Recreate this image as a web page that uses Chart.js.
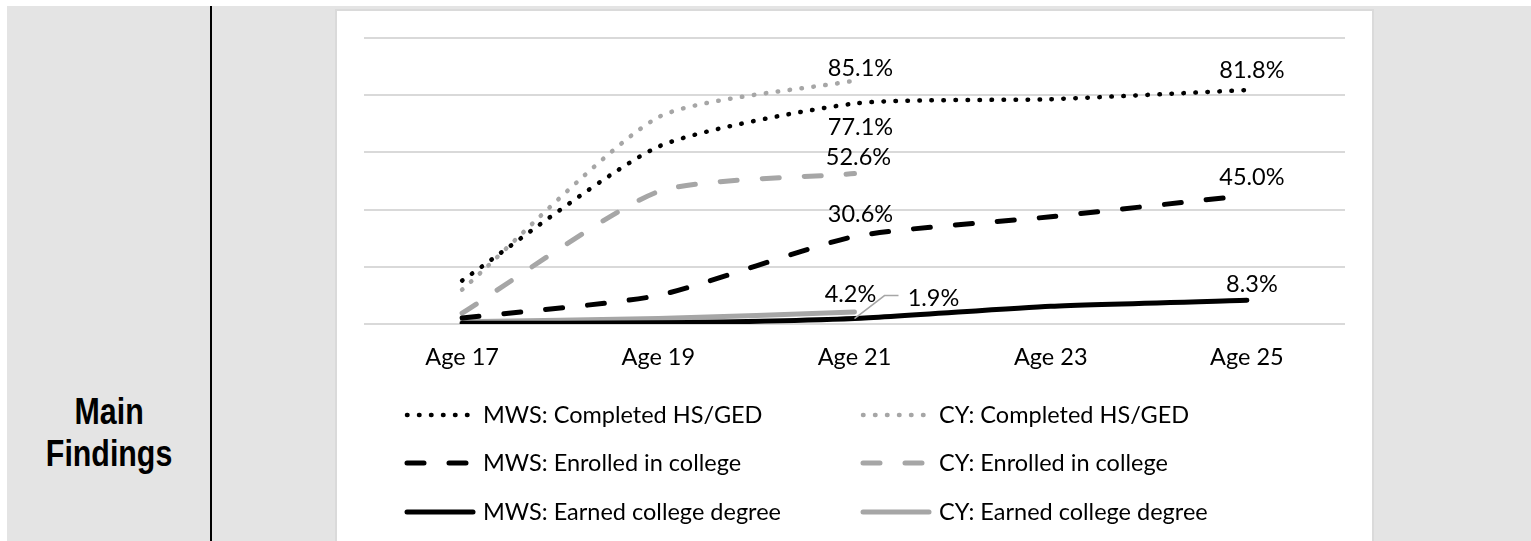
<!DOCTYPE html>
<html lang="en">
<head>
  <meta charset="UTF-8">
  <title>Main Findings</title>
  <script src="https://cdn.jsdelivr.net/npm/chart.js"></script>
  <style>
    html, body { margin: 0; padding: 0; background: #fff; }
    body { width: 1531px; height: 541px; position: relative; overflow: hidden; }
    .panel { position: absolute; left: 7px; top: 6px; right: 0; bottom: 0; background: #e4e4e4; }
    .divider { position: absolute; left: 210px; top: 6px; bottom: 0; width: 2px; background: #000; }
    .title { position: absolute; left: 7px; width: 204px; top: 391px; text-align: center;
             font: bold 37px "Liberation Sans", Arial, sans-serif; line-height: 42px; color: #000; }
    .title span { display: inline-block; transform: scaleX(0.82); }
    .box { position: absolute; left: 335px; top: 9px; width: 1039px; height: 540px; box-sizing: border-box;
           border: 2px solid #dadada; border-bottom: none; background: #fff; }
    #wrap { position: absolute; left: 337px; top: 11px; width: 1035px; height: 530px; }
  </style>
</head>
<body>
  <div class="panel"></div>
  <div class="divider"></div>
  <div class="title"><span>Main</span><br><span>Findings</span></div>
  <div class="box"></div>
  <div id="wrap"><canvas id="chart"></canvas></div>

  <script>
    // values (percent)
    const ages = ['Age 17', 'Age 19', 'Age 21', 'Age 23', 'Age 25'];
    const mwsHs = [15.2, 62.0, 77.1, 78.6, 81.8];
    const cyHs = [12.0, 72.3, 85.1, null, null];
    const mwsCollege = [2.1, 10.0, 30.6, 37.5, 45.0];
    const cyCollege = [3.8, 46.3, 52.6, null, null];
    const mwsDegree = [0.3, 0.4, 1.9, 6.2, 8.3];
    const cyDegree = [0.8, 1.9, 4.2, null, null];

    const BLACK = '#000000';
    const GREY = '#a6a6a6';
    const FONT = 'Lato, "Open Sans", sans-serif';

    const styles = {
      dot:   { borderDash: [0.5, 11.5], borderWidth: 4.5 },
      dash:  { borderDash: [17, 25], borderWidth: 5 },
      solid: { borderDash: [], borderWidth: 5 }
    };

    function series(label, data, color, kind) {
      return Object.assign({
        label: label,
        data: data,
        borderColor: color,
        backgroundColor: color,
        borderCapStyle: 'round',
        borderJoinStyle: 'round',
        pointRadius: 0,
        fill: false,
        tension: 0.2
      }, styles[kind]);
    }

    // which points get a value label, and where it sits relative to the point
    const labelSpots = [
      { ds: 1, i: 2, dx: 6, dy: -12 },
      { ds: 0, i: 2, dx: 6, dy: 24 },
      { ds: 3, i: 2, dx: 4, dy: -16 },
      { ds: 2, i: 2, dx: 6, dy: -22 },
      { ds: 5, i: 2, dx: -4, dy: -18 },
      { ds: 4, i: 2, dx: 79, dy: -20, leader: true },
      { ds: 0, i: 4, dx: 5, dy: -20 },
      { ds: 2, i: 4, dx: 5, dy: -18 },
      { ds: 4, i: 4, dx: 5, dy: -16 }
    ];

    const valueLabels = {
      id: 'valueLabels',
      afterDatasetsDraw(chart) {
        const ctx = chart.ctx;
        ctx.save();
        ctx.font = '23.5px ' + FONT;
        ctx.fillStyle = '#000';
        ctx.textAlign = 'center';
        ctx.textBaseline = 'middle';
        labelSpots.forEach(s => {
          const pt = chart.getDatasetMeta(s.ds).data[s.i];
          const v = chart.data.datasets[s.ds].data[s.i];
          if (s.leader) {
            ctx.strokeStyle = GREY;
            ctx.lineWidth = 1.5;
            ctx.setLineDash([]);
            ctx.beginPath();
            ctx.moveTo(pt.x, pt.y);
            ctx.lineTo(pt.x + 30, pt.y - 23);
            ctx.lineTo(pt.x + 44, pt.y - 23);
            ctx.stroke();
          }
          ctx.fillText(v.toFixed(1) + '%', pt.x + s.dx, pt.y + s.dy);
        });
        ctx.restore();
      }
    };

    // two-column legend under the axis
    const gridLegend = {
      id: 'gridLegend',
      afterDraw(chart) {
        const ctx = chart.ctx;
        const colX = [68, 524];
        const rowY = [404, 452, 501];
        const len = 68;
        ctx.save();
        ctx.font = '23.5px ' + FONT;
        ctx.fillStyle = '#000';
        ctx.textAlign = 'left';
        ctx.textBaseline = 'middle';
        chart.data.datasets.forEach((ds, k) => {
          const x = colX[k % 2];
          const y = rowY[Math.floor(k / 2)];
          ctx.strokeStyle = ds.borderColor;
          ctx.lineWidth = ds.borderWidth;
          ctx.lineCap = 'round';
          ctx.setLineDash(ds.borderDash);
          ctx.beginPath();
          ctx.moveTo(x + 2, y);
          ctx.lineTo(x + len, y);
          ctx.stroke();
          ctx.setLineDash([]);
          ctx.fillText(ds.label, x + len + 10, y);
        });
        ctx.restore();
      }
    };

    function build() {
      const ctx = document.getElementById('chart').getContext('2d');
      new Chart(ctx, {
        type: 'line',
        data: {
          labels: ages,
          datasets: [
            series('MWS: Completed HS/GED', mwsHs, BLACK, 'dot'),
            series('CY: Completed HS/GED', cyHs, GREY, 'dot'),
            series('MWS: Enrolled in college', mwsCollege, BLACK, 'dash'),
            series('CY: Enrolled in college', cyCollege, GREY, 'dash'),
            series('MWS: Earned college degree', mwsDegree, BLACK, 'solid'),
            series('CY: Earned college degree', cyDegree, GREY, 'solid')
          ]
        },
        options: {
          responsive: true,
          maintainAspectRatio: false,
          animation: false,
          events: [],
          layout: { padding: { left: 27, right: 27, top: 27, bottom: 0 } },
          plugins: { legend: { display: false }, tooltip: { enabled: false } },
          scales: {
            x: {
              offset: true,
              grid: { display: false, drawTicks: false },
              border: { display: false },
              ticks: { color: '#000', font: { family: FONT, size: 23.5 }, padding: 19, maxRotation: 0 },
              afterFit: s => { s.height = 217; }
            },
            y: {
              min: 0,
              max: 100,
              ticks: { stepSize: 20, display: false },
              grid: { color: '#d9d9d9', lineWidth: 2, drawTicks: false },
              border: { display: false },
              afterFit: s => { s.width = 0; }
            }
          }
        },
        plugins: [valueLabels, gridLegend]
      });
    }

    document.fonts.load('23.5px Lato').then(build, build);
  </script>
</body>
</html>
